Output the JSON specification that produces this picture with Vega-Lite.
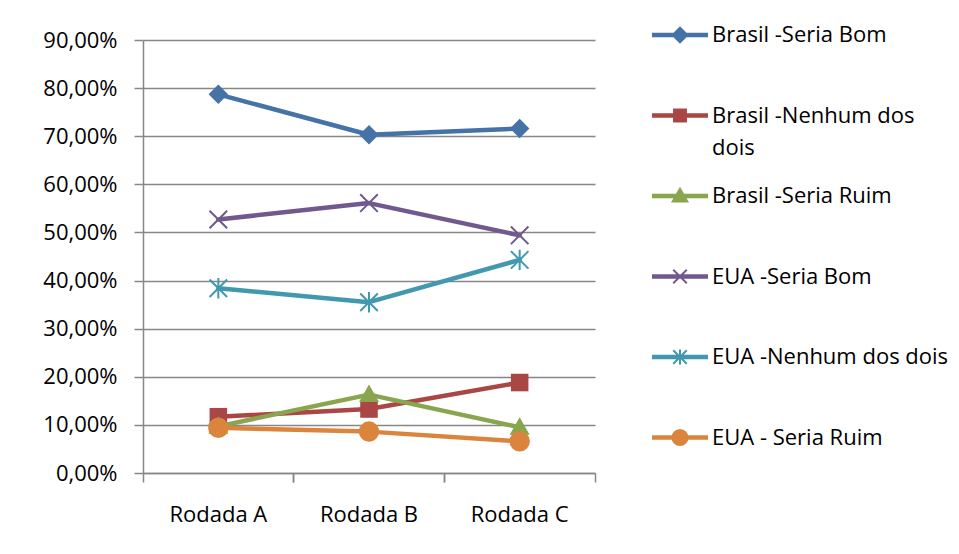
{
  "$schema": "https://vega.github.io/schema/vega-lite/v6.json",
  "width": 452,
  "height": 433,
  "autosize": {"type": "none"},
  "padding": {"left": 143, "top": 40, "right": 364, "bottom": 81},
  "background": "white",
  "config": {
    "view": {"stroke": null},
    "font": "Open Sans",
    "style": {"guide-label": {"lineHeight": 32}},
    "axis": {"labelFont": "Open Sans", "labelFontSize": 22, "labelColor": "#000000", "domainColor": "#878787", "tickColor": "#878787", "gridColor": "#878787", "domainWidth": 1.5, "tickWidth": 1.5, "gridWidth": 1.5}
  },
  "data": {"values": [
    {"rodada": "Rodada A", "serie": "Brasil -Seria Bom", "valor": 0.787},
    {"rodada": "Rodada B", "serie": "Brasil -Seria Bom", "valor": 0.703},
    {"rodada": "Rodada C", "serie": "Brasil -Seria Bom", "valor": 0.716},
    {"rodada": "Rodada A", "serie": "Brasil -Nenhum dos dois", "valor": 0.117},
    {"rodada": "Rodada B", "serie": "Brasil -Nenhum dos dois", "valor": 0.133},
    {"rodada": "Rodada C", "serie": "Brasil -Nenhum dos dois", "valor": 0.188},
    {"rodada": "Rodada A", "serie": "Brasil -Seria Ruim", "valor": 0.097},
    {"rodada": "Rodada B", "serie": "Brasil -Seria Ruim", "valor": 0.163},
    {"rodada": "Rodada C", "serie": "Brasil -Seria Ruim", "valor": 0.095},
    {"rodada": "Rodada A", "serie": "EUA -Seria Bom", "valor": 0.527},
    {"rodada": "Rodada B", "serie": "EUA -Seria Bom", "valor": 0.561},
    {"rodada": "Rodada C", "serie": "EUA -Seria Bom", "valor": 0.494},
    {"rodada": "Rodada A", "serie": "EUA -Nenhum dos dois", "valor": 0.384},
    {"rodada": "Rodada B", "serie": "EUA -Nenhum dos dois", "valor": 0.355},
    {"rodada": "Rodada C", "serie": "EUA -Nenhum dos dois", "valor": 0.443},
    {"rodada": "Rodada A", "serie": "EUA - Seria Ruim", "valor": 0.094},
    {"rodada": "Rodada B", "serie": "EUA - Seria Ruim", "valor": 0.086},
    {"rodada": "Rodada C", "serie": "EUA - Seria Ruim", "valor": 0.066}
  ]},
  "encoding": {
    "x": {"field": "rodada", "type": "nominal", "title": null,
      "scale": {"type": "band", "paddingInner": 0, "paddingOuter": 0},
      "axis": null},
    "y": {"field": "valor", "type": "quantitative", "title": null,
      "scale": {"domain": [0, 0.9], "nice": false, "zero": true},
      "axis": null},
    "color": {"field": "serie", "type": "nominal",
      "scale": {"domain": ["Brasil -Seria Bom", "Brasil -Nenhum dos dois", "Brasil -Seria Ruim", "EUA -Seria Bom", "EUA -Nenhum dos dois", "EUA - Seria Ruim"],
                "range": ["#4572A7", "#AA4643", "#89A54E", "#71588F", "#4198AF", "#DB843D"]}}
  },
  "resolve": {"axis": {"x": "independent", "y": "independent"}},
  "layer": [
    {
      "mark": {"type": "line", "strokeWidth": 4.5, "strokeCap": "round", "strokeJoin": "round"},
      "encoding": {
        "x": {"field": "rodada", "type": "nominal", "title": null,
          "axis": {"orient": "bottom", "bandPosition": 0, "labelAngle": 0, "tickSize": 9, "labelPadding": 22, "grid": false}},
        "y": {"field": "valor", "type": "quantitative", "title": null,
          "axis": {"orient": "left", "values": [0, 0.1, 0.2, 0.3, 0.4, 0.5, 0.6, 0.7, 0.8, 0.9], "labelExpr": "replace(format(datum.value, '.2%'), '.', ',')", "tickSize": 9, "labelPadding": 17, "grid": true}}
      }
    },
    {
      "transform": [{"filter": "datum.serie == 'Brasil -Seria Bom'"}],
      "mark": {"type": "point", "filled": true, "size": 380, "opacity": 1, "shape": "M0,-1L1,0L0,1L-1,0Z"}
    },
    {
      "transform": [{"filter": "datum.serie == 'Brasil -Nenhum dos dois'"}],
      "mark": {"type": "point", "filled": true, "size": 380, "opacity": 1, "shape": "M-0.9,-0.9H0.9V0.9H-0.9Z"}
    },
    {
      "transform": [{"filter": "datum.serie == 'Brasil -Seria Ruim'"}],
      "mark": {"type": "point", "filled": true, "size": 400, "opacity": 1, "shape": "M0,-1L1,0.75L-1,0.75Z"}
    },
    {
      "transform": [{"filter": "datum.serie == 'EUA -Seria Bom'"}],
      "mark": {"type": "point", "filled": false, "size": 380, "opacity": 1, "strokeWidth": 2, "shape": "M-0.9,-0.9L0.9,0.9M-0.9,0.9L0.9,-0.9"}
    },
    {
      "transform": [{"filter": "datum.serie == 'EUA -Nenhum dos dois'"}],
      "mark": {"type": "point", "filled": false, "size": 380, "opacity": 1, "strokeWidth": 2, "shape": "M-0.9,-0.9L0.9,0.9M-0.9,0.9L0.9,-0.9M0,-1.05L0,1.05"}
    },
    {
      "transform": [{"filter": "datum.serie == 'EUA - Seria Ruim'"}],
      "mark": {"type": "point", "filled": true, "size": 420, "opacity": 1, "shape": "circle"}
    },
    {
      "mark": {"type": "point", "filled": true, "opacity": 0},
      "encoding": {
        "x": {"field": "rodada", "type": "nominal", "title": null,
          "axis": {"orient": "bottom", "bandPosition": 1, "labels": false, "domain": false, "grid": false, "tickSize": 9}},
        "stroke": {"field": "serie", "type": "nominal",
          "scale": {"domain": ["Brasil -Seria Bom", "Brasil -Nenhum dos dois", "Brasil -Seria Ruim", "EUA -Seria Bom", "EUA -Nenhum dos dois", "EUA - Seria Ruim"],
                    "range": ["#4572A7", "#AA4643", "#89A54E", "#71588F", "#4198AF", "#DB843D"]}},
        "shape": {"field": "serie", "type": "nominal",
          "scale": {"domain": ["Brasil -Seria Bom", "Brasil -Nenhum dos dois", "Brasil -Seria Ruim", "EUA -Seria Bom", "EUA -Nenhum dos dois", "EUA - Seria Ruim"],
                    "range": [
                      "M-1,-0.045H1V0.045H-1Z M0,-0.27L0.27,0L0,0.27L-0.27,0Z",
                      "M-1,-0.045H1V0.045H-1Z M-0.22,-0.22H0.22V0.22H-0.22Z",
                      "M-1,-0.045H1V0.045H-1Z M0,-0.27L0.27,0.2L-0.27,0.2Z",
                      "M-1,-0.045H1V0.045H-1Z M-0.25,-0.25L0.25,0.25M-0.25,0.25L0.25,-0.25",
                      "M-1,-0.045H1V0.045H-1Z M-0.25,-0.25L0.25,0.25M-0.25,0.25L0.25,-0.25M0,-0.28L0,0.28",
                      "M-1,-0.045H1V0.045H-1Z M0.28,0A0.28,0.28 0 1,1 -0.28,0A0.28,0.28 0 1,1 0.28,0Z"
                    ]},
          "legend": {
            "title": null, "orient": "none", "legendX": 509, "legendY": -33,
            "symbolSize": 2916, "symbolStrokeWidth": 2, "symbolOpacity": 1, "symbolType": "circle",
            "labelFont": "Open Sans", "labelFontSize": 22, "labelColor": "#000000", "labelOffset": 4, "labelLimit": 400,
            "rowPadding": 9.5, "gridAlign": "all",
            "labelExpr": "datum.label == 'Brasil -Nenhum dos dois' ? ['Brasil -Nenhum dos', 'dois'] : datum.label == 'EUA -Seria Bom' ? '\u2005EUA -Seria Bom' : datum.label"
          }
        }
      }
    }
  ]
}
